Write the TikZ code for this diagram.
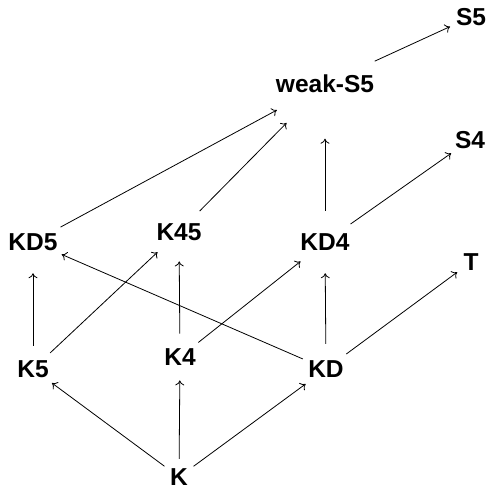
\documentclass[tikz,border=0pt]{standalone}
\usepackage{fontspec}
\setmainfont{Liberation Sans}
\usetikzlibrary{arrows.meta}
\begin{document}
\begin{tikzpicture}[x=1pt,y=-1pt,
  lbl/.style={circle,inner sep=4pt,font=\fontsize{24.5}{28}\selectfont\bfseries},
  edge/.style={-{To[length=5pt,width=9pt]},line width=0.8pt}]
\useasboundingbox (0,0) rectangle (490,489);
\node[lbl] (S5) at (471,17) {S5};
\node[lbl] (wS5) at (325,84) {weak-S5};
\node[lbl] (S4) at (470,140) {S4};
\node[lbl] (KD5) at (33,242) {KD5};
\node[lbl] (K45) at (179,232) {K45};
\node[lbl] (KD4) at (325,242) {KD4};
\node[lbl] (T) at (471,262) {T};
\node[lbl] (K5) at (33,369) {K5};
\node[lbl] (K4) at (180,357) {K4};
\node[lbl] (KD) at (326,369) {KD};
\node[lbl] (K) at (179,477) {K};
\draw[edge] (wS5) -- (S5);
\draw[edge] (KD5) -- (wS5);
\draw[edge] (K45) -- (wS5);
\draw[edge] (KD4) -- (wS5);
\draw[edge] (KD4) -- (S4);
\draw[edge] (K5) -- (KD5);
\draw[edge] (K5) -- (K45);
\draw[edge] (K4) -- (K45);
\draw[edge] (K4) -- (KD4);
\draw[edge] (KD) -- (KD5);
\draw[edge] (KD) -- (KD4);
\draw[edge] (KD) -- (T);
\draw[edge] (K) -- (K5);
\draw[edge] (K) -- (K4);
\draw[edge] (K) -- (KD);
\end{tikzpicture}
\end{document}
